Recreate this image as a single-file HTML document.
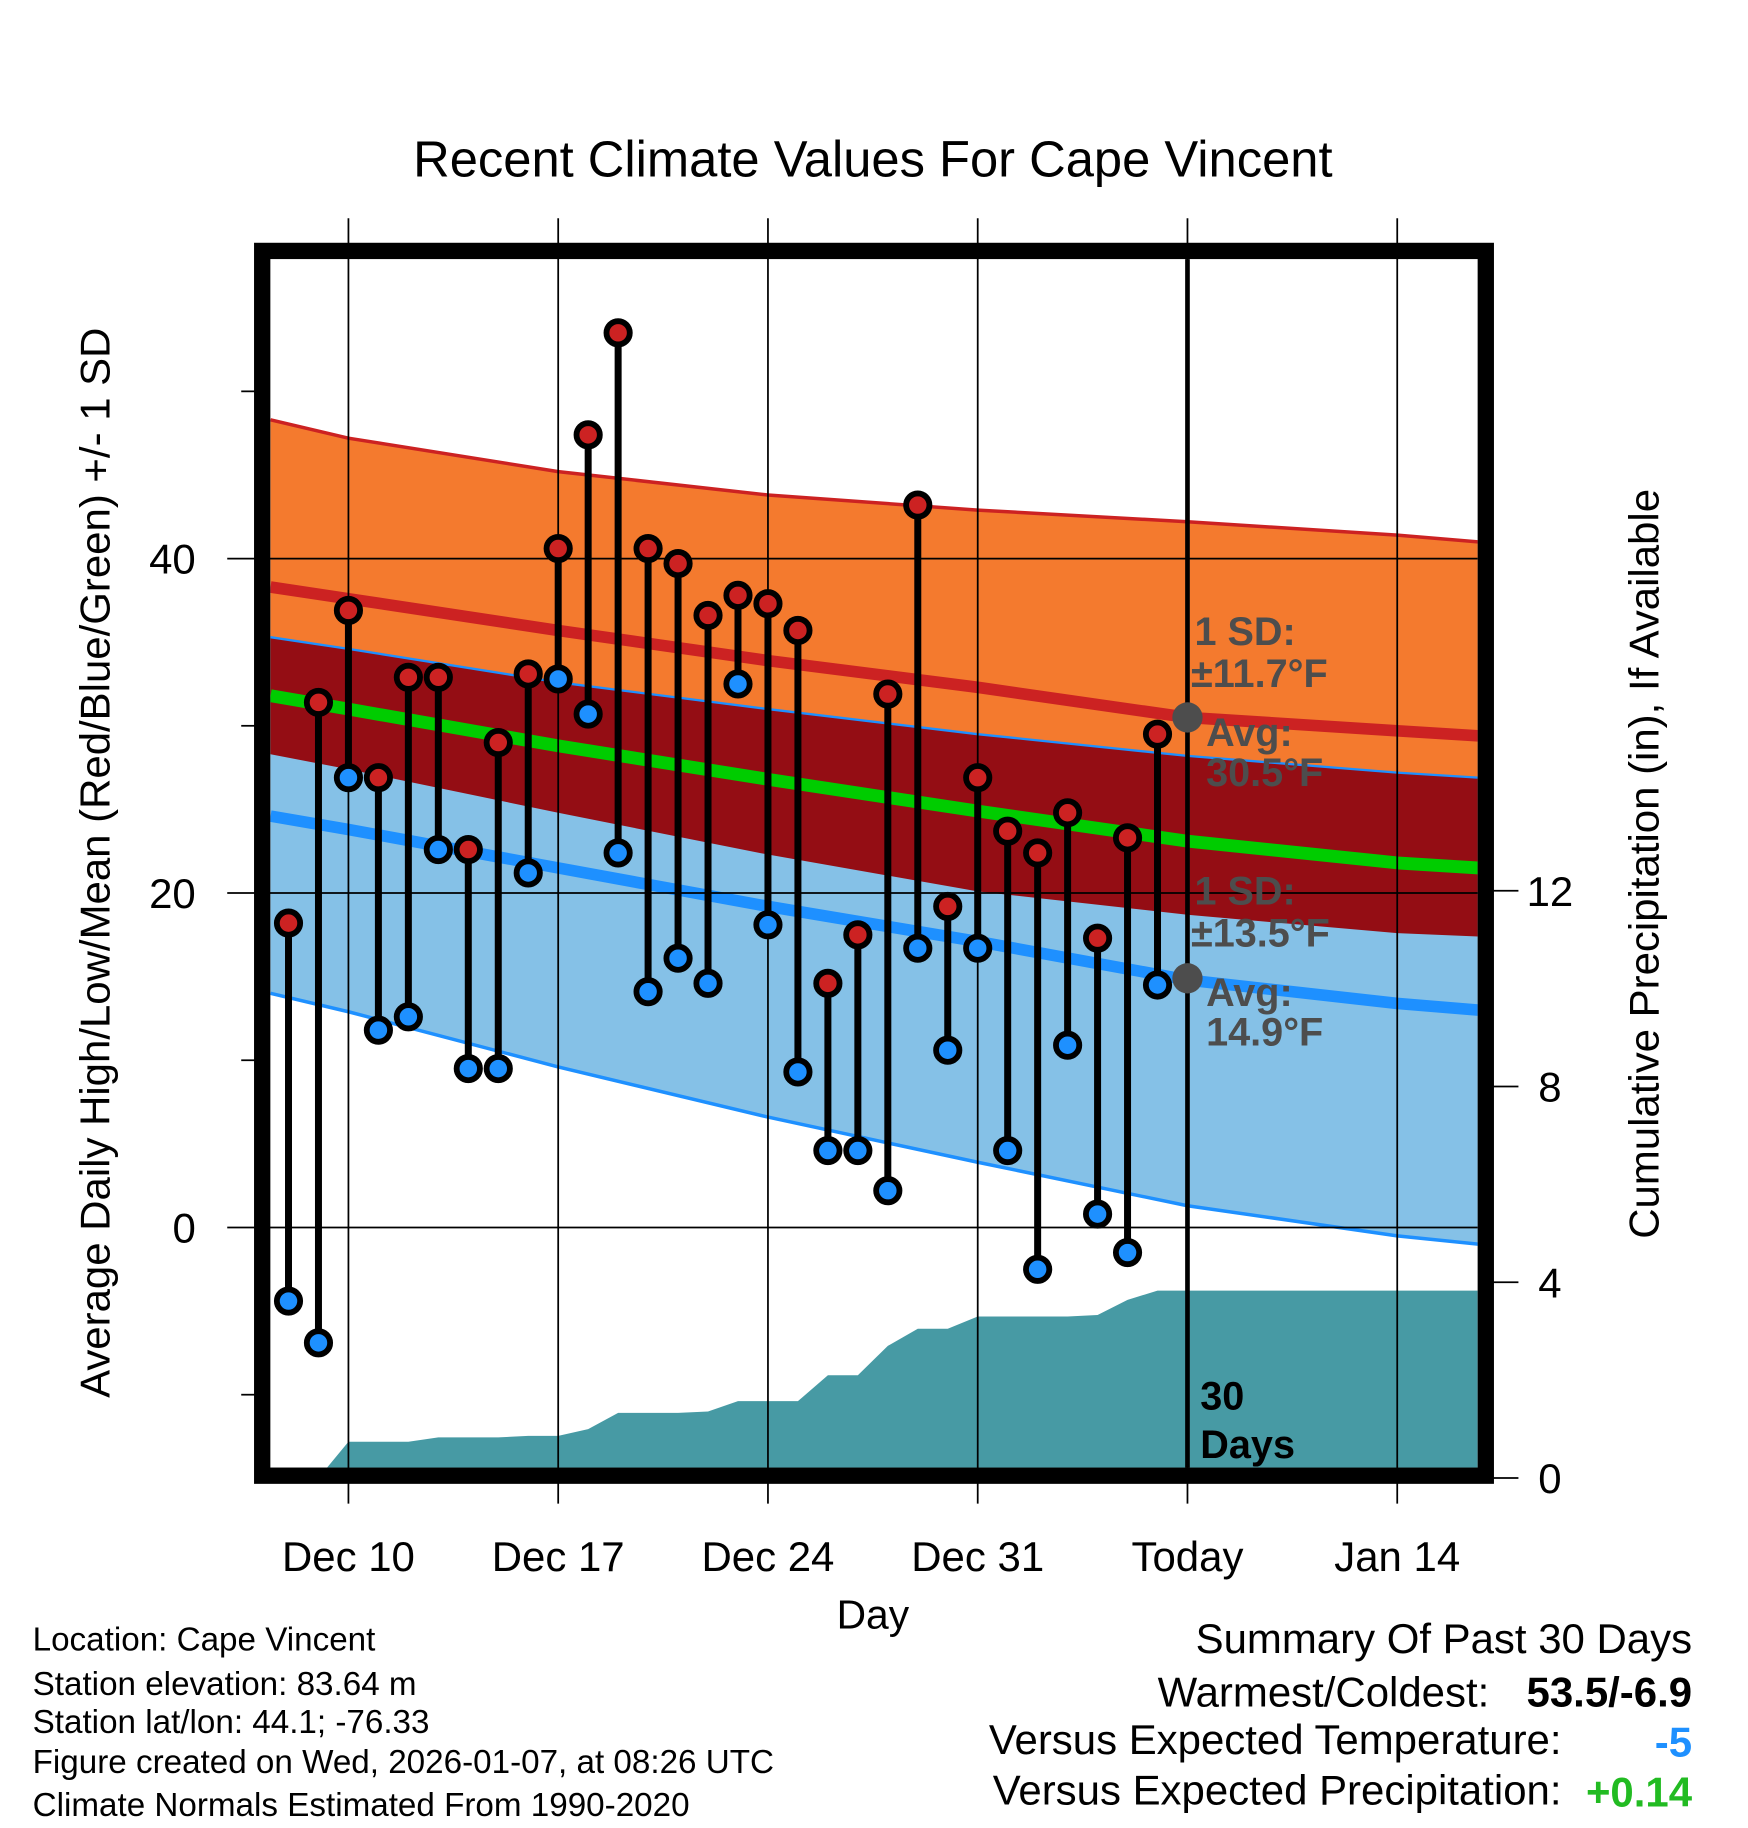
<!DOCTYPE html>
<html><head><meta charset="utf-8"><style>
html,body{margin:0;padding:0;background:#fff;}
svg{display:block;font-family:"Liberation Sans",Arial,sans-serif;}
</style></head><body>
<svg id="chart" width="1748" height="1828" viewBox="0 0 1500 1568" xmlns="http://www.w3.org/2000/svg">
<defs><clipPath id="pc"><rect x="232" y="222" width="1036" height="1037"/></clipPath></defs>
<g id="bands" clip-path="url(#pc)"></g>
<g id="grid"></g>
<g id="marks" clip-path="url(#pc)"></g>
<g id="annot"></g>
<rect x="225" y="215" width="1050" height="1051" fill="none" stroke="#000" stroke-width="14"/>
<text x="749" y="151" font-size="43.5" text-anchor="middle">Recent Climate Values For Cape Vincent</text>
<text transform="translate(94,740) rotate(-90)" font-size="36" text-anchor="middle">Average Daily High/Low/Mean (Red/Blue/Green) +/- 1 SD</text>
<text transform="translate(1423,741) rotate(-90)" font-size="36" text-anchor="middle">Cumulative Precipitation (in), If Available</text>
<text x="749" y="1397" font-size="35" text-anchor="middle">Day</text>
<g font-size="28.5">
<text x="28" y="1416">Location: Cape Vincent</text>
<text x="28" y="1454">Station elevation: 83.64 m</text>
<text x="28" y="1487">Station lat/lon: 44.1; -76.33</text>
<text x="28" y="1521">Figure created on Wed, 2026-01-07, at 08:26 UTC</text>
<text x="28" y="1558">Climate Normals Estimated From 1990-2020</text>
</g>
<g font-size="36">
<text x="1452" y="1418" text-anchor="end">Summary Of Past 30 Days</text>
<text x="1278" y="1464" text-anchor="end">Warmest/Coldest:</text>
<text x="1452" y="1464" text-anchor="end" font-weight="bold">53.5/-6.9</text>
<text x="1340" y="1505" text-anchor="end">Versus Expected Temperature:</text>
<text x="1452" y="1507" text-anchor="end" font-weight="bold" fill="#1e90ff">-5</text>
<text x="1340" y="1548" text-anchor="end">Versus Expected Precipitation:</text>
<text x="1452" y="1550" text-anchor="end" font-weight="bold" fill="#22bb22">+0.14</text>
</g>
</svg>
<script>
// normals sampled at day offsets (day 0 = Dec 10)
const normDays = [-2.6, 0, 7, 14, 21, 28, 35, 37.7];
const highUpper = [48.3, 47.2, 45.2, 43.8, 42.9, 42.2, 41.4, 41.0];
const highMean  = [38.3, 37.6, 35.7, 33.9, 32.3, 30.5, 29.7, 29.4];
const lowUpper  = [35.3, 34.6, 32.6, 31.0, 29.5, 28.2, 27.2, 26.9];
const avgMean   = [31.8, 31.0, 28.8, 26.8, 24.9, 23.1, 21.8, 21.5];
const highLower = [28.3, 27.4, 24.8, 22.3, 20.1, 18.7, 17.6, 17.4];
const lowMean   = [24.6, 23.8, 21.5, 19.2, 17.1, 14.8, 13.4, 13.0];
const lowLower  = [14.0, 12.9, 9.6, 6.6, 3.9, 1.3, -0.5, -1.0];
// observations, day offsets -2..27 (Dec 8 .. Jan 6)
const obsHigh = [18.2,31.4,36.9,26.9,32.9,32.9,22.6,29.0,33.1,40.6,47.4,53.5,40.6,39.7,36.6,37.8,37.3,35.7,14.6,17.5,31.9,43.2,19.2,26.9,23.7,22.4,24.8,17.3,23.3,29.5];
const obsLow  = [-4.4,-6.9,26.9,11.8,12.6,22.6,9.5,9.5,21.2,32.8,30.7,22.4,14.1,16.1,14.6,32.5,18.1,9.3,4.6,4.6,2.2,16.7,10.6,16.7,4.6,-2.5,10.9,0.8,-1.5,14.5];
const precip  = [0,0,0.74,0.74,0.74,0.83,0.83,0.83,0.86,0.86,1.0,1.33,1.33,1.33,1.36,1.57,1.57,1.57,2.1,2.1,2.7,3.05,3.05,3.3,3.3,3.3,3.3,3.33,3.64,3.83];
const xTickDays = [0,7,14,21,28,35];
const xTickLabels = ["Dec 10","Dec 17","Dec 24","Dec 31","Today","Jan 14"];
const yTicks = [0,20,40];
const yMinor = [-10,10,30,50];
const y2Ticks = [0,4,8,12];

const X = d => 299 + d*180/7;
const Y = v => 1053 - v*14.35;
const Y2 = p => 1268 - p*42;
const NS = "http://www.w3.org/2000/svg";
function mk(tag, attrs, parent){const e=document.createElementNS(NS,tag);for(const k in attrs)e.setAttribute(k,attrs[k]);parent.appendChild(e);return e;}
const bands=document.getElementById('bands'), grid=document.getElementById('grid'), marks=document.getElementById('marks'), annot=document.getElementById('annot');
const pts = arr => normDays.map((d,i)=>X(d)+','+Y(arr[i]));
function band(up, lo, fill, name){
  const p = pts(up).concat(pts(lo).reverse()).join(' ');
  const e = mk('polygon',{points:p,fill:fill},bands);
  
  
}
function line(arr, col, w, name){
  const e = mk('polyline',{points:pts(arr).join(' '),fill:'none',stroke:col,'stroke-width':w},bands);
  
  
}
band(highUpper, highLower, '#f47a2e', 'high-sd-band');
band(lowUpper, lowLower, '#85c1e7', 'low-sd-band');
band(lowUpper, highLower, '#940d14', 'overlap-band');
line(highUpper, '#cc2222', 3, 'high-upper-line');
line(lowUpper, '#1e90ff', 2, 'low-upper-line');
line(lowLower, '#1e90ff', 3, 'low-lower-line');
line(highMean, '#cc2222', 10, 'high-mean-line');
line(avgMean, '#00cc00', 11, 'avg-mean-line');
line(lowMean, '#1e90ff', 10, 'low-mean-line');
// precipitation area
{
  let p = [X(-2)+','+1268];
  precip.forEach((v,i)=>p.push(X(i-2)+','+Y2(v)));
  p.push('1268,'+Y2(precip[precip.length-1]));
  p.push('1268,1268');
  const e = mk('polygon',{points:p.join(' '),fill:'#479aa4'},bands);
  
  
}
// grid + ticks
xTickDays.forEach((d,i)=>{
  const g = mk('line',{x1:X(d),x2:X(d),y1:187,y2:1290,stroke:'#000','stroke-width':1.5},grid);
  
  
  const t = mk('text',{x:X(d),y:1348,'font-size':36,'text-anchor':'middle'},grid);
  t.textContent = xTickLabels[i];
  
  
});
yTicks.forEach(v=>{
  const g = mk('line',{x1:195,x2:1268,y1:Y(v),y2:Y(v),stroke:'#000','stroke-width':1.5},grid);
  
  
  const t = mk('text',{x:168,y:Y(v)+13,'font-size':36,'text-anchor':'end'},grid);
  t.textContent = v;
  
  
});
yMinor.forEach(v=>{
  const g = mk('line',{x1:207,x2:220,y1:Y(v),y2:Y(v),stroke:'#000','stroke-width':1.5},grid);
  
  
});
y2Ticks.forEach(v=>{
  const g = mk('line',{x1:1280,x2:1303,y1:Y2(v),y2:Y2(v),stroke:'#000','stroke-width':1.5},grid);
  
  
  const t = mk('text',{x:1330,y:Y2(v)+13,'font-size':36,'text-anchor':'middle'},grid);
  t.textContent = v;
  
  
});
// observations
obsHigh.forEach((h,i)=>{
  const x = X(i-2);
  const s = mk('line',{x1:x,x2:x,y1:Y(h),y2:Y(obsLow[i]),stroke:'#000','stroke-width':6},marks);
  
  
});
obsHigh.forEach((h,i)=>{
  const x = X(i-2);
  const a = mk('circle',{cx:x,cy:Y(h),r:10,fill:'#cc2222',stroke:'#000','stroke-width':5},marks);
  
  
  const b = mk('circle',{cx:x,cy:Y(obsLow[i]),r:10,fill:'#1e90ff',stroke:'#000','stroke-width':5},marks);
  
  
});
// today line
{
  const t = mk('line',{x1:X(28),x2:X(28),y1:222,y2:1259,stroke:'#000','stroke-width':4},annot);
  
  
  const d1 = mk('circle',{cx:X(28),cy:Y(30.5),r:13,fill:'#4d4d4d'},annot);
  
  
  const d2 = mk('circle',{cx:X(28),cy:Y(14.9),r:13,fill:'#4d4d4d'},annot);
  
  
}
const labels = [
 ['1 SD:',1025,553,'#4d4d4d','high-sd-label'],['±11.7°F',1022,589,'#4d4d4d','high-sd-value'],
 ['Avg:',1035,640,'#4d4d4d','high-avg-label'],['30.5°F',1035,674,'#4d4d4d','high-avg-value'],
 ['1 SD:',1025,776,'#4d4d4d','low-sd-label'],['±13.5°F',1022,812,'#4d4d4d','low-sd-value'],
 ['Avg:',1035,863,'#4d4d4d','low-avg-label'],['14.9°F',1035,897,'#4d4d4d','low-avg-value'],
 ['30',1030,1209,'#000','days-label-num'],['Days',1030,1251,'#000','days-label-text']];
labels.forEach(l=>{
  const t = mk('text',{x:l[1],y:l[2],'font-size':34,'font-weight':'bold',fill:l[3]},annot);
  t.textContent = l[0];
  
  
});
</script>
</body></html>
